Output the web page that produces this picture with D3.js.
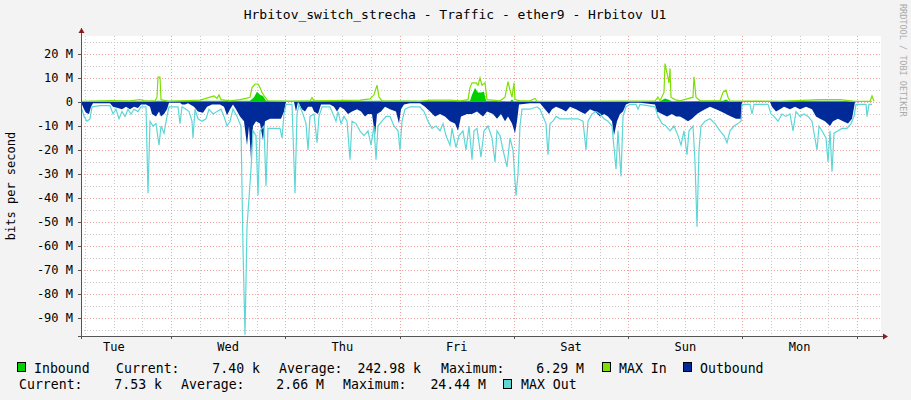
<!DOCTYPE html>
<html><head><meta charset="utf-8">
<script src="https://cdn.jsdelivr.net/npm/d3@7"></script>
<style>body{margin:0;background:#f3f3f3}text{font-family:"DejaVu Sans Mono",monospace}</style>
</head><body><svg id="c" width="911" height="400"></svg>
<script>
// time index t: one sample = 12.6 minutes from graph start (800 samples = 7 days)
const dayLabels = ["Tue","Wed","Thu","Fri","Sat","Sun","Mon"];
const yTicks = [20,10,0,-10,-20,-30,-40,-50,-60,-70,-80,-90];
const outbound = [[1,-1],[3,-3],[5,-4.5],[8,-5],[10,-2],[12,-0.5],[29,-0.5],[32,-2],[37,-2.5],[41,-3],[45,-2],[49,-3],[53,-2],[57,-2.5],[60,-1],[65,-1],[69,-2],[71,-5],[75,-6],[78,-4],[80,-6],[83,-5],[86,-3],[88,-0.3],[99,-0.3],[101,-1],[104,-1],[107,-0.5],[113,-2],[117,-4],[122,-4.5],[126,-2],[131,-1],[139,-1],[143,-2],[146,-5.5],[149,-3],[152,-1],[155,-3],[159,-6],[163,-8],[166,-18],[168,-10],[170,-24],[172,-10],[175,-8],[179,-9],[182,-16],[184,-8],[189,-7],[195,-7],[200,-7],[203,-4],[205,0],[213,0],[215,-4],[217,0],[221,-3],[224,-4],[227,-2],[231,-2],[233,-4],[237,-5],[240,-1],[249,-1],[253,-2],[256,-4],[259,-2],[263,-3],[267,-5],[271,-4],[276,-3],[280,-4],[284,-6],[287,-5],[291,-5],[294,-14],[296,-5],[300,-4],[304,-2],[309,-3],[315,-4],[318,-9],[320,-3],[323,-1],[329,-0.5],[339,-0.5],[344,-2],[349,-4],[354,-6],[359,-5],[364,-6],[369,-8],[374,-9],[377,-12],[380,-6],[386,-5],[391,-5],[396,-4],[402,-6],[406,-4],[412,-5],[416,-7],[420,-5],[424,-8],[427,-6],[431,-9],[434,-13],[436,-8],[438,-1],[449,-0.5],[459,-0.5],[464,-3],[468,-5],[471,-3],[475,-2],[481,-3],[485,-4],[489,-2],[495,-3],[499,-4],[504,-5],[509,-3],[514,-4],[519,-6],[523,-5],[527,-6],[531,-8],[533,-14],[536,-8],[539,-5],[542,-4],[545,-1],[549,-0.3],[559,-0.3],[574,-1],[576,-4],[581,-5],[586,-6],[591,-5],[595,-6],[599,-6],[603,-7],[607,-8],[611,-7],[616,-5],[620,-4],[624,-3],[629,-2],[635,-3],[640,-4],[645,-5],[650,-6],[655,-7],[660,-7],[661,0],[689,0],[691,-2],[695,-4],[699,-3],[703,-2],[709,-3],[714,-2],[719,-3],[725,-2],[731,-3],[735,-6],[739,-7],[744,-8],[749,-10],[752,-8],[757,-7],[762,-8],[767,-9],[771,-7],[774,0],[791,0]];
const maxOut = [[1,-3],[3,-6],[6,-8],[9,-7],[11,-2],[19,-1.5],[29,-1.5],[32,-5],[35,-3],[38,-7],[41,-4],[44,-6],[47,-3],[50,-5],[53,-3],[57,-4],[60,-2],[65,-2],[67,-38],[69,-8],[72,-10],[75,-9],[78,-18],[80,-10],[83,-13],[86,-6],[88,-2],[97,-2],[99,-9],[101,-2],[105,-3],[108,-4],[111,-8],[112,-15],[114,-3],[117,-7],[121,-8],[125,-7],[128,-3],[132,-5],[136,-4],[140,-3],[143,-6],[146,-10],[149,-8],[152,-3],[156,-6],[160,-10],[162,-61],[164,-97],[166,-52],[168,-40],[170,-28],[172,-12],[175,-14],[177,-39],[179,-12],[183,-10],[185,-35],[187,-11],[191,-11],[195,-11],[199,-11],[201,-15],[203,-5],[205,-1],[211,-1],[214,-38],[216,-5],[218,-1],[222,-5],[225,-9],[227,-20],[229,-6],[233,-5],[236,-17],[238,-6],[241,-2],[249,-2],[252,-5],[255,-8],[257,-4],[260,-9],[263,-6],[266,-8],[269,-24],[271,-8],[275,-9],[279,-12],[283,-14],[287,-12],[290,-18],[293,-10],[295,-24],[297,-10],[301,-8],[305,-6],[309,-6],[313,-10],[317,-12],[319,-20],[321,-8],[324,-3],[329,-2],[339,-2],[343,-4],[347,-8],[351,-11],[355,-10],[359,-12],[362,-9],[365,-14],[369,-18],[371,-11],[375,-19],[378,-14],[382,-12],[385,-20],[388,-10],[391,-24],[393,-12],[396,-11],[400,-23],[403,-12],[407,-10],[411,-15],[414,-25],[416,-12],[419,-14],[422,-20],[426,-27],[429,-15],[432,-20],[435,-39],[437,-30],[439,-10],[441,-3],[449,-3],[456,-2],[459,-3],[462,-6],[465,-9],[467,-22],[469,-9],[472,-8],[475,-6],[479,-7],[485,-7],[491,-7],[497,-7],[502,-8],[505,-20],[507,-8],[511,-5],[515,-4],[519,-5],[523,-7],[527,-8],[531,-10],[535,-28],[537,-12],[540,-31],[542,-6],[545,-2],[549,-1],[555,-1],[557,-3],[559,-1],[574,-2],[577,-6],[581,-9],[585,-10],[589,-12],[593,-10],[597,-14],[600,-18],[603,-12],[606,-22],[608,-12],[612,-10],[614,-25],[616,-52],[618,-20],[620,-10],[624,-8],[629,-7],[634,-9],[639,-12],[643,-14],[646,-17],[649,-12],[653,-10],[657,-9],[660,-8],[661,-1],[669,-1],[671,-5],[673,-1],[687,-1],[690,-5],[693,-6],[697,-8],[701,-5],[705,-6],[709,-5],[712,-12],[715,-4],[719,-6],[723,-5],[727,-6],[731,-8],[736,-20],[738,-10],[741,-12],[745,-15],[747,-25],[749,-12],[751,-29],[753,-13],[757,-12],[761,-11],[766,-11],[770,-9],[773,-6],[775,-1],[785,-1],[786,-6],[788,-1],[791,-1]];
const inbound = [[1,0.2],[69,0.3],[77,0.5],[169,0.5],[173,2],[176,4.3],[179,3],[182,2.5],[185,0.5],[389,0.5],[391,3],[394,5.8],[397,4],[400,4],[403,4.3],[405,0.5],[429,0.3],[431,1],[433,0.3],[579,0.3],[584,1.5],[587,1],[591,0.3],[642,0.5],[645,1],[648,0.3],[739,0.5],[759,0.5],[774,0.2],[791,0.2]];
const maxIn = [[1,0.3],[19,0.5],[29,0.6],[49,0.5],[59,1],[64,0.5],[74,0.5],[76,2],[77,10.4],[79,10.4],[80,1],[87,0.3],[99,0.5],[119,0.8],[129,2],[133,2.5],[136,1.5],[138,3],[140,1],[149,0.5],[159,1],[165,1.5],[169,2],[171,6],[174,7.5],[177,7.5],[179,6],[181,4],[184,2],[187,0.5],[209,0.3],[229,0.5],[231,1.8],[233,0.5],[279,0.8],[289,1.3],[293,3],[296,7],[298,2],[301,0.5],[339,0.3],[349,0.8],[369,0.8],[379,0.5],[387,1],[389,6],[391,8],[395,8],[397,7],[399,10],[401,7],[404,8],[406,1],[419,0.5],[424,2],[427,8.5],[429,5],[431,2],[433,8],[434,1],[439,0.5],[449,0.5],[454,1.5],[456,0.3],[499,0.3],[574,0.5],[577,2],[579,0.5],[583,4],[584,16],[586,12],[588,8],[589,14],[590,2],[594,1],[599,0.5],[612,2],[613,10.5],[615,2],[619,0.5],[639,0.5],[642,4],[645,5],[647,2],[649,0.5],[699,0.3],[739,1],[759,1],[774,0.3],[789,0.3],[791,2.5],[793,0.3]];
const legend1 = ["Inbound","Current:","7.40 k","Average:","242.98 k","Maximum:","6.29 M"];
const legend2 = ["Current:","7.53 k","Average:","2.66 M","Maximum:","24.44 M"];
const samplesPerDay = 114.29, firstMidnight = 90;

const svg = d3.select("#c");
const L=81,R=881,T=36,B=336;
const x = d3.scaleLinear().domain([0,800]).range([L,R]);
const y = d3.scaleLinear().domain([-97.5,27.5]).range([B,T]);
svg.append("rect").attr("x",L).attr("y",T).attr("width",R-L).attr("height",B-T).attr("fill","#fff");
const g = svg.append("g");
for(let v=-95; v<=25; v+=5){ if(v%10===0) continue;
  g.append("line").attr("x1",L).attr("x2",R).attr("y1",Math.round(y(v))+.5).attr("y2",Math.round(y(v))+.5).attr("stroke","#c8c8c8").attr("stroke-dasharray","1,2");}
for(let t=firstMidnight-samplesPerDay; t<800; t+=samplesPerDay/4){ if(t<=0) continue;
  if(Math.abs(((t-firstMidnight)/samplesPerDay)-Math.round((t-firstMidnight)/samplesPerDay))<0.01) continue;
  g.append("line").attr("x1",Math.round(x(t))+.5).attr("x2",Math.round(x(t))+.5).attr("y1",T).attr("y2",B).attr("stroke","#c8c8c8").attr("stroke-dasharray","1,2");}
yTicks.forEach(v=>g.append("line").attr("x1",L).attr("x2",R).attr("y1",Math.round(y(v))+.5).attr("y2",Math.round(y(v))+.5).attr("stroke","#f0a0a0").attr("stroke-dasharray","1,2"));
for(let k=0;k<7;k++){const t=firstMidnight+k*samplesPerDay;
  g.append("line").attr("x1",Math.round(x(t))+.5).attr("x2",Math.round(x(t))+.5).attr("y1",T).attr("y2",B).attr("stroke","#f0a0a0").attr("stroke-dasharray","1,2");}
const area = d3.area().x(d=>x(d[0])).y0(y(0)).y1(d=>y(d[1]));
const line = d3.line().x(d=>x(d[0])).y(d=>y(d[1]));
svg.append("path").datum(outbound).attr("d",area).attr("fill","#002A97");
svg.append("path").datum(inbound).attr("d",area).attr("fill","#00CF00");
svg.append("path").datum(maxOut).attr("d",line).attr("fill","none").attr("stroke","#5fd6d6").attr("stroke-width",1.2);
svg.append("path").datum(maxIn).attr("d",line).attr("fill","none").attr("stroke","#7ce000").attr("stroke-width",1.2);
svg.append("line").attr("x1",L-3).attr("x2",R+2).attr("y1",B+.5).attr("y2",B+.5).attr("stroke","#555");
svg.append("line").attr("x1",L+.5).attr("x2",L+.5).attr("y1",T-8).attr("y2",B+3).attr("stroke","#555");
svg.append("path").attr("d",`M${R+2},${B-2.5}L${R+7},${B+.5}L${R+2},${B+3.5}Z`).attr("fill","#8b1a1a");
svg.append("path").attr("d",`M${L-2.5},${T-3}L${L+.5},${T-8}L${L+3.5},${T-3}Z`).attr("fill","#8b1a1a");
yTicks.forEach(v=>{
  svg.append("line").attr("x1",L-3).attr("x2",L).attr("y1",Math.round(y(v))+.5).attr("y2",Math.round(y(v))+.5).attr("stroke","#555");
  svg.append("text").attr("x",73).attr("y",y(v)+4).attr("text-anchor","end").attr("font-size",12).attr("fill","#000").text(v===0?"0":v+" M");});
for(let k=-1;k<7;k++){const t=firstMidnight+k*samplesPerDay; if(t>0) svg.append("line").attr("x1",Math.round(x(t))+.5).attr("x2",Math.round(x(t))+.5).attr("y1",B).attr("y2",B+3).attr("stroke","#555");}
dayLabels.forEach((d,k)=>svg.append("text").attr("x",x(firstMidnight+(k-0.5)*samplesPerDay)).attr("y",351).attr("text-anchor","middle").attr("font-size",12).text(d));
svg.append("text").attr("x",455).attr("y",19).attr("text-anchor","middle").attr("font-size",13).text("Hrbitov_switch_strecha - Traffic - ether9 - Hrbitov U1");
svg.append("text").attr("transform","translate(15,186) rotate(-90)").attr("text-anchor","middle").attr("font-size",12).text("bits per second");
svg.append("text").attr("transform","translate(900,4) rotate(90)").attr("font-size",8.5).attr("fill","#aaa").text("RRDTOOL / TOBI OETIKER");
function sw(px,py,c){svg.append("rect").attr("x",px+.5).attr("y",py+.5).attr("width",8).attr("height",9).attr("fill",c).attr("stroke","#000");}
function tx(px,py,s,anchor){svg.append("text").attr("x",px).attr("y",py).attr("font-size",13.2).attr("text-anchor",anchor||"start").text(s);}
const l1x=[[34,"start"],[116,"start"],[260,"end"],[279,"start"],[421,"end"],[441,"start"],[584,"end"]];
const l2x=[[19,"start"],[162,"end"],[181,"start"],[324,"end"],[343,"start"],[486,"end"]];
sw(17,362,"#00CF00");
legend1.forEach((s,i)=>tx(l1x[i][0],373,s,l1x[i][1]));
sw(602,362,"#7ce000"); tx(619,373,"MAX In");
sw(683,362,"#002A97"); tx(700,373,"Outbound");
legend2.forEach((s,i)=>tx(l2x[i][0],389,s,l2x[i][1]));
sw(503,379,"#5fd6d6"); tx(521,389,"MAX Out");
</script></body></html>
